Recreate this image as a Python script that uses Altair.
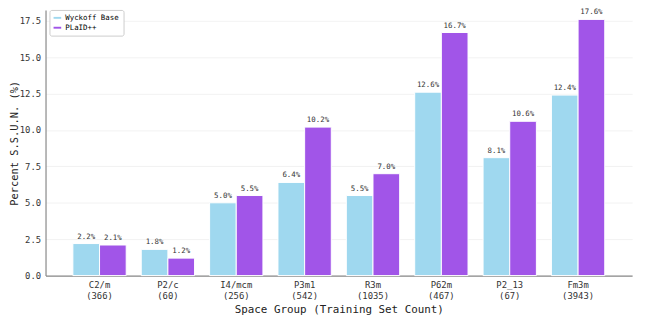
import altair as alt
import pandas as pd

groups = ["C2/m", "P2/c", "I4/mcm", "P3m1", "R3m", "P62m", "P2_13", "Fm3m"]
counts = [366, 60, 256, 542, 1035, 467, 67, 3943]
wyckoff = [2.2, 1.8, 5.0, 6.4, 5.5, 12.6, 8.1, 12.4]
plaid = [2.1, 1.2, 5.5, 10.2, 7.0, 16.7, 10.6, 17.6]
series = ["Wyckoff Base", "PLaID++"]
colors = ["#9FD8EF", "#A155E8"]
y_ticks = [0, 2.5, 5, 7.5, 10, 12.5, 15, 17.5]

rows = []
for g, c, w, p in zip(groups, counts, wyckoff, plaid):
    lab = f"{g}|({c})"
    rows.append(dict(group=lab, series=series[0], value=w))
    rows.append(dict(group=lab, series=series[1], value=p))
df = pd.DataFrame(rows)
order = [f"{g}|({c})" for g, c in zip(groups, counts)]

FONT = "DejaVu Sans Mono"

base = alt.Chart(df).encode(
    x=alt.X(
        "group:N",
        sort=order,
        scale=alt.Scale(paddingInner=0.22, paddingOuter=0.40),
        axis=alt.Axis(
            title="Space Group (Training Set Count)",
            labelAngle=0,
            labelExpr="split(datum.label, '|')",
            ticks=False,
            grid=False,
            labelPadding=5,
            labelFontSize=9,
            labelLineHeight=11,
            titleFontSize=11,
            titlePadding=3,
        ),
    ),
    xOffset=alt.XOffset("series:N", sort=series,
                        scale=alt.Scale(paddingInner=0, paddingOuter=0)),
    y=alt.Y(
        "value:Q",
        scale=alt.Scale(domain=[0, 18.25], nice=False, zero=True),
        axis=alt.Axis(
            title="Percent S.S.U.N. (%)",
            values=y_ticks,
            format=".1f",
            ticks=False,
            labelPadding=5,
            labelFontSize=9,
            titleFontSize=10.5,
            titlePadding=0,
        ),
    ),
)

bars = base.mark_bar(stroke="white", strokeWidth=1).encode(
    color=alt.Color(
        "series:N",
        sort=series,
        scale=alt.Scale(domain=series, range=colors),
        legend=alt.Legend(
            title=None,
            orient="none",
            legendX=4,
            legendY=0,
            labelFont=FONT,
            labelFontSize=7.5,
            symbolType="M-1,-0.25L1,-0.25L1,0.25L-1,0.25Z",
            symbolSize=60,
            symbolStrokeWidth=0,
            padding=4,
            rowPadding=2,
            strokeColor="#cccccc",
            fillColor="white",
            cornerRadius=2,
        ),
    )
)

text = base.transform_calculate(
    lbl="format(datum.value, '.1f') + '%'"
).mark_text(dy=-3, baseline="bottom", font=FONT, fontSize=7.5, color="#333").encode(
    text="lbl:N"
)

chart = (
    alt.layer(bars, text)
    .properties(width=594, height=269, padding={"left": 38, "top": 0, "right": 8, "bottom": 42},
                autosize=alt.AutoSizeParams(type="none"))
    .configure(font=FONT)
    .configure_view(stroke=None)
    .configure_axis(
        labelFont=FONT,
        titleFont=FONT,
        titleFontWeight="normal",
        labelColor="#333",
        titleColor="#222",
        domainColor="#888",
        domainWidth=1.2,
        gridColor="#eeeeee",
        gridWidth=0.8,
    )
)

chart.save("out.html", embed_options={"renderer": "svg", "actions": False})
